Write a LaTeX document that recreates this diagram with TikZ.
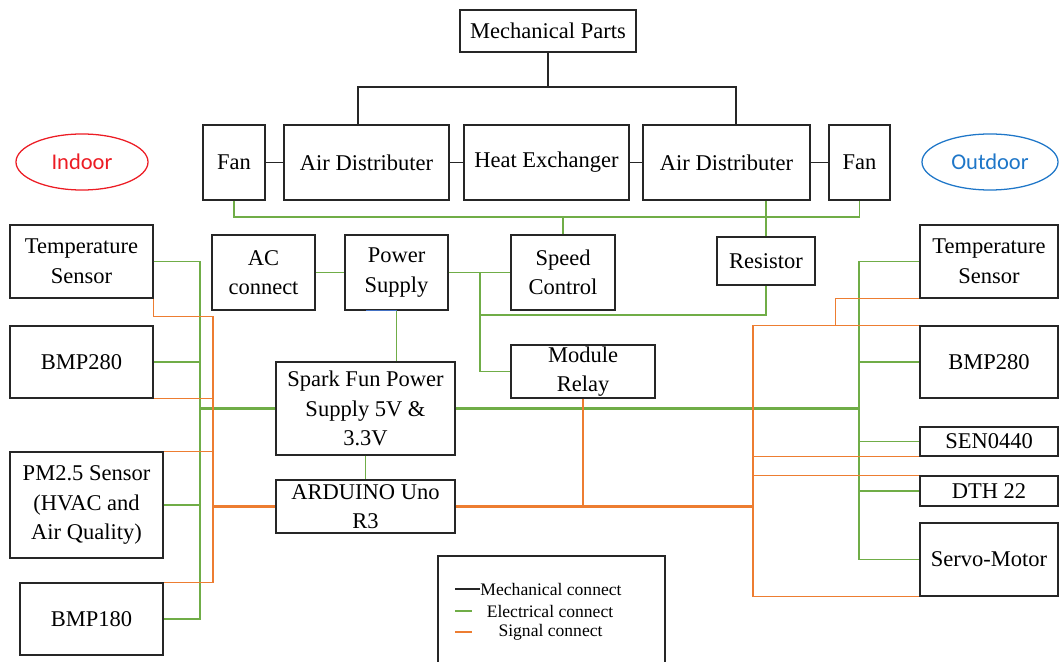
\documentclass[tikz,border=0pt]{standalone}
\usepackage{fontspec}
\setmainfont{Liberation Serif}
\newfontfamily\calibri{Carlito}
\usetikzlibrary{calc,shapes.geometric}
\definecolor{elecgreen}{RGB}{112,173,71}
\definecolor{sigorange}{RGB}{237,125,49}
\definecolor{indoorred}{RGB}{236,28,36}
\definecolor{outdoorblue}{RGB}{30,118,200}
\definecolor{psblue}{RGB}{68,114,196}
\tikzset{
	part/.style={draw=black!85, line width=0.9pt, align=center, inner sep=0pt, font=\fontsize{16}{21}\selectfont},
	mech/.style={black!85, line width=0.9pt},
	elec/.style={draw=elecgreen, line width=1.2pt},
	elecbus/.style={draw=elecgreen, line width=2pt},
	sig/.style={draw=sigorange, line width=1.2pt},
	sigbus/.style={draw=sigorange, line width=2pt},
	place/.style={ellipse, line width=0.9pt, minimum height=1.4cm, font=\calibri\fontsize{16}{19}\selectfont},
	legtext/.style={inner sep=0pt, font=\fontsize{12.5}{15}\selectfont}
}

\begin{document}
\begin{tikzpicture}[x=0.025cm, y=-0.025cm]
		%%%%% START %%%%%
		\useasboundingbox (0,0) rectangle (1060,662);
		
		% mechanical parts
		\node[part, minimum width=4.4cm, minimum height=1.05cm] (mech) at (548,31) {Mechanical Parts};
		\node[part, minimum width=1.55cm, minimum height=1.875cm] (fanL) at (234,162.5) {Fan};
		\node[part, minimum width=4.125cm, minimum height=1.875cm] (distL) at (366.5,162.5) {Air Distributer};
		\node[part, minimum width=4.125cm, minimum height=1.875cm] (heat) at (546.5,162.5) {Heat Exchanger};
		\node[part, minimum width=4.175cm, minimum height=1.875cm] (distR) at (726.5,162.5) {Air Distributer};
		\node[part, minimum width=1.525cm, minimum height=1.875cm] (fanR) at (859.5,162.5) {Fan};
		
		\node[place, draw=indoorred, text=indoorred, minimum width=3.3cm] (indoor) at (82,162) {Indoor};
		\node[place, draw=outdoorblue, text=outdoorblue, minimum width=3.4cm] (outdoor) at (990,162) {Outdoor};
		
		% power and control
		\node[part, minimum width=2.575cm, minimum height=1.875cm] (ac) at (263.5,272.5) {AC\\connect};
		\node[part, minimum width=2.575cm, minimum height=1.875cm] (power) at (396.5,272.5) {Power\\Supply};
		\node[part, minimum width=2.6cm, minimum height=1.875cm] (speed) at (563,272.5) {Speed\\Control};
		\node[part, minimum width=2.45cm, minimum height=1.2cm] (resist) at (766,261) {Resistor};
		\node[part, minimum width=3.6cm, minimum height=1.325cm] (relay) at (583,371.5) {Module\\Relay};
		\node[part, minimum width=4.475cm, minimum height=2.325cm] (spark) at (365.5,408.5) {Spark Fun Power\\Supply 5V \&\\3.3V};
		\node[part, minimum width=4.475cm, minimum height=1.325cm] (ard) at (365.5,506.5) {ARDUINO Uno\\R3};
		
		% indoor sensors
		\node[part, minimum width=3.575cm, minimum height=1.825cm] (tempL) at (81.5,261.5) {Temperature\\Sensor};
		\node[part, minimum width=3.575cm, minimum height=1.8cm] (bmpL) at (81.5,362) {BMP280};
		\node[part, minimum width=3.825cm, minimum height=2.65cm] (pm) at (86.5,505) {PM2.5 Sensor\\(HVAC and\\Air Quality)};
		\node[part, minimum width=3.575cm, minimum height=1.8cm] (bmpB) at (91.5,619) {BMP180};
		
		% outdoor sensors
		\node[part, minimum width=3.45cm, minimum height=1.825cm] (tempR) at (989,261.5) {Temperature\\Sensor};
		\node[part, minimum width=3.45cm, minimum height=1.8cm] (bmpR) at (989,362) {BMP280};
		\node[part, minimum width=3.45cm, minimum height=0.725cm] (sen) at (989,441.5) {SEN0440};
		\node[part, minimum width=3.45cm, minimum height=0.75cm] (dth) at (989,491) {DTH 22};
		\node[part, minimum width=3.45cm, minimum height=1.825cm] (servo) at (989,559.5) {Servo-Motor};
		
		% mechanical connections
		\coordinate (mbus) at (548,87);
		\coordinate (mL) at (358,87);
		\coordinate (mR) at (736,87);
		\draw[mech] (mech.south) -- (mbus);
		\draw[mech] (mL |- distL.north) -- (mL) -- (mR) -- (mR |- distR.north);
		\draw[mech] (fanL) -- (distL);
		\draw[mech] (distL) -- (heat);
		\draw[mech] (heat) -- (distR);
		\draw[mech] (distR) -- (fanR);
		
		% electrical connections
		\coordinate (gtop) at (0,217);
		\draw[elec] (fanL.south) -- (fanL.south |- gtop) -- (fanR.south |- gtop) -- (fanR.south);
		\draw[elec] (speed.north) -- (speed.north |- gtop);
		\draw[elec] (distR.south -| resist.north) -- (resist.north);
		\draw[elec] (ac) -- (power);
		\draw[elec] (power) -- (speed);
		\coordinate (pj) at (480,272.5);
		\coordinate (rj) at (480,315);
		\draw[elec] (pj) |- (relay.west);
		\draw[elec] (rj) -| (resist.south);
		\draw[psblue, line width=1.2pt] (power.south) -- ++(-31,0);
		\draw[elec] (power.south) -- (power.south |- spark.north);
		\draw[elec] (spark.south) -- (ard.north);
		
		\coordinate (gl) at (200,0);
		\draw[elec] (tempL.east) -| (gl |- bmpB.east) -- (bmpB.east);
		\draw[elec] (bmpL.east) -- (bmpL.east -| gl);
		\draw[elec] (pm.east) -- (pm.east -| gl);
		\draw[elecbus] (spark.west) -- (spark.west -| gl);
		
		\coordinate (gr) at (859,0);
		\draw[elec] (tempR.west) -| (gr |- servo.west) -- (servo.west);
		\draw[elec] (bmpR.west) -- (bmpR.west -| gr);
		\draw[elec] (sen.west) -- (sen.west -| gr);
		\draw[elec] (dth.west) -- (dth.west -| gr);
		\draw[elecbus] (spark.east) -- (spark.east -| gr);
		
		% signal connections
		\coordinate (sl) at (213,0);
		\draw[sig] (tempL.south east) -- ++(0,18) -| (sl |- bmpB.north east) -- (bmpB.north east);
		\draw[sig] (bmpL.south east) -- (bmpL.south east -| sl);
		\draw[sig] (pm.north east) -- (pm.north east -| sl);
		\draw[sigbus] (ard.west) -- (ard.west -| sl);
		
		\coordinate (sr) at (753,0);
		\draw[sig] (tempR.south west) -- ++(-84,0) |- (bmpR.north west);
		\draw[sig] (bmpR.north west) -| (sr |- servo.south west) -- (servo.south west);
		\draw[sig] (sen.south west) -- (sen.south west -| sr);
		\draw[sig] (dth.north west) -- (dth.north west -| sr);
		\draw[sigbus] (ard.east) -- (ard.east -| sr);
		\draw[sig] (relay.south) -- (relay.south |- ard.east);
		
		% legend
		\draw[mech] (438,662) |- (665,556) -- (665,662);
		\node[legtext] (lmech) at (551,589) {Mechanical connect};
		\node[legtext] (lelec) at (550,611) {Electrical connect};
		\node[legtext] (lsig) at (550.5,632) {Signal connect};
		\draw[mech] (455,589) -- (lmech.west);
		\draw[elec] (455,611) -- (472,611);
		\draw[sig] (455,632) -- (472,632);
		%%%%% END %%%%%
	\end{tikzpicture}
\end{document}
